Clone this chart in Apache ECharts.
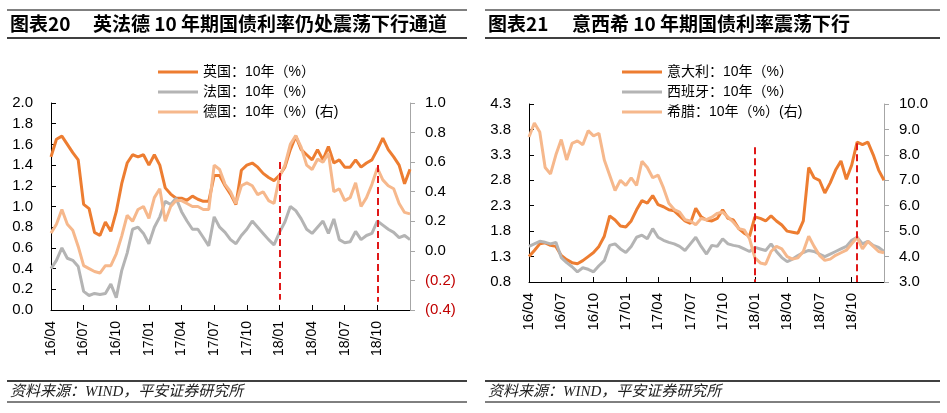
<!DOCTYPE html>
<html>
<head>
<meta charset="utf-8">
<script src="https://cdn.jsdelivr.net/npm/echarts@6/dist/echarts.min.js"></script>
<style>
  html, body { margin: 0; padding: 0; background: #fff; }
  #chart { width: 947px; height: 413px; }
</style>
</head>
<body>
<div id="chart"></div>
<script>
// 半月采样：每月1日、16日，2016-04 至 2019-01-01
const categories = []
for (let y = 2016; y <= 2018; y++) {
  for (let m = (y === 2016 ? 4 : 1); m <= 12; m++) {
    const mm = (m < 10 ? '0' : '') + m
    categories.push(y + '-' + mm + '-01', y + '-' + mm + '-16')
  }
}
categories.push('2019-01-01')

// 图表20
const ukYield = [1.48, 1.65, 1.68, 1.60, 1.52, 1.45, 1.02, 0.98, 0.75, 0.72, 0.85, 0.76, 0.95, 1.22, 1.42, 1.50,
  1.48, 1.50, 1.40, 1.50, 1.40, 1.18, 1.12, 1.08, 1.08, 1.06, 1.10, 1.07, 1.05, 1.05, 1.30, 1.30,
  1.20, 1.12, 1.02, 1.35, 1.40, 1.42, 1.38, 1.32, 1.28, 1.25, 1.30, 1.38, 1.55, 1.68, 1.55, 1.50,
  1.45, 1.55, 1.45, 1.58, 1.42, 1.45, 1.38, 1.38, 1.45, 1.38, 1.42, 1.45, 1.55, 1.66, 1.55, 1.48,
  1.40, 1.22, 1.36]
const frYield = [0.40, 0.48, 0.60, 0.50, 0.48, 0.42, 0.18, 0.14, 0.16, 0.15, 0.16, 0.25, 0.12, 0.38, 0.55, 0.78,
  0.80, 0.74, 0.64, 0.80, 0.90, 1.05, 1.02, 1.08, 0.95, 0.86, 0.78, 0.78, 0.70, 0.62, 0.90, 0.80,
  0.75, 0.68, 0.64, 0.72, 0.78, 0.86, 0.80, 0.74, 0.68, 0.63, 0.75, 0.85, 1.00, 0.96, 0.88, 0.78,
  0.74, 0.80, 0.86, 0.74, 0.88, 0.68, 0.65, 0.66, 0.76, 0.68, 0.72, 0.74, 0.86, 0.82, 0.78, 0.75,
  0.70, 0.72, 0.68]
const deYield = [0.12, 0.18, 0.28, 0.18, 0.14, 0.03, -0.10, -0.12, -0.14, -0.15, -0.10, -0.10, -0.02, 0.10, 0.24, 0.20,
  0.28, 0.30, 0.22, 0.36, 0.42, 0.20, 0.30, 0.34, 0.34, 0.32, 0.30, 0.30, 0.28, 0.28, 0.58, 0.55,
  0.45, 0.40, 0.32, 0.44, 0.46, 0.44, 0.38, 0.40, 0.34, 0.32, 0.50, 0.58, 0.72, 0.78, 0.70, 0.58,
  0.55, 0.62, 0.60, 0.66, 0.40, 0.42, 0.34, 0.36, 0.46, 0.30, 0.36, 0.45, 0.56, 0.48, 0.44, 0.42,
  0.32, 0.26, 0.25]

// 图表21
const itYield = [1.30, 1.42, 1.55, 1.57, 1.52, 1.50, 1.32, 1.24, 1.18, 1.16, 1.22, 1.30, 1.38, 1.50, 1.70, 2.10,
  2.02, 1.90, 1.88, 2.00, 2.22, 2.40, 2.35, 2.50, 2.32, 2.28, 2.22, 2.20, 2.10, 2.00, 1.95, 2.25,
  2.08, 2.02, 2.00, 2.05, 2.22, 2.05, 2.02, 1.85, 1.76, 1.70, 2.08, 2.05, 2.00, 2.10, 2.00, 1.92,
  1.80, 1.78, 1.76, 2.00, 3.05, 2.85, 2.80, 2.55, 2.75, 3.00, 3.18, 2.82, 3.10, 3.55, 3.50, 3.55,
  3.30, 3.00, 2.80]
const esYield = [1.50, 1.55, 1.60, 1.58, 1.55, 1.58, 1.28, 1.18, 1.10, 1.00, 1.08, 1.05, 1.00, 1.12, 1.22, 1.52,
  1.55, 1.45, 1.38, 1.50, 1.68, 1.72, 1.65, 1.85, 1.68, 1.62, 1.58, 1.55, 1.50, 1.42, 1.55, 1.68,
  1.50, 1.35, 1.52, 1.50, 1.65, 1.55, 1.52, 1.50, 1.45, 1.40, 1.48, 1.45, 1.42, 1.55, 1.40, 1.28,
  1.20, 1.25, 1.32, 1.38, 1.42, 1.40, 1.35, 1.30, 1.35, 1.40, 1.45, 1.50, 1.62, 1.68, 1.55, 1.60,
  1.52, 1.48, 1.40]
const grYield = [8.70, 9.25, 8.90, 7.50, 7.25, 8.00, 8.60, 7.80, 8.45, 8.55, 8.40, 8.95, 8.75, 8.85, 7.80, 7.20,
  6.60, 7.00, 6.80, 7.10, 6.80, 7.75, 7.50, 7.10, 7.20, 6.70, 6.10, 5.85, 5.75, 5.45, 5.40, 5.25,
  5.50, 5.45, 5.55, 5.70, 5.75, 5.55, 5.35, 5.10, 5.05, 4.70, 3.95, 3.75, 3.70, 4.20, 4.40, 4.30,
  4.00, 3.90, 3.95, 4.20, 4.80, 4.40, 4.05, 3.85, 3.90, 4.05, 4.15, 4.25, 4.50, 4.75, 4.30, 4.60,
  4.40, 4.20, 4.15]

// 红色虚线：[类目下标, 上端值, 下端值]
const markLeft = [[42, 1.43, 0.10], [60, 1.40, 0.08]]
const markRight = [[42, 3.45, 0.8], [61, 3.53, 0.8]]

const DARK = '#ED7D31'
const GREY = '#B4B4B4'
const LIGHT = '#F6B88C'
const NUM_FONT = "'Liberation Sans', 'Noto Sans CJK SC', sans-serif"
const CJK_FONT = "'Noto Sans CJK SC', sans-serif"

function isQuarterTick(index, value) {
  return value.slice(8) === '01' && ['01', '04', '07', '10'].indexOf(value.slice(5, 7)) >= 0 &&
    index < categories.length - 1
}

function xAxisOf(gridIndex, fontSize) {
  return {
    type: 'category',
    gridIndex: gridIndex,
    data: categories,
    boundaryGap: false,
    axisLine: { lineStyle: { color: '#000', width: 1 } },
    axisTick: { inside: true, length: 5, interval: isQuarterTick, lineStyle: { color: '#000' } },
    axisLabel: {
      interval: isQuarterTick,
      rotate: 90,
      margin: 11,
      color: '#000',
      fontSize: fontSize,
      fontFamily: NUM_FONT,
      formatter: v => v.slice(2, 4) + '/' + v.slice(5, 7)
    },
    splitLine: { show: false }
  }
}

function yAxisOf(gridIndex, position, min, max, interval, lineColor, labelColor, formatter) {
  return {
    type: 'value',
    gridIndex: gridIndex,
    position: position,
    min: min,
    max: max,
    interval: interval,
    axisLine: { show: true, lineStyle: { color: lineColor } },
    axisTick: { show: true, inside: position === 'left', length: 5, lineStyle: { color: lineColor } },
    axisLabel: {
      color: labelColor,
      fontSize: 15,
      fontFamily: NUM_FONT,
      margin: position === 'left' ? 18 : 15,
      formatter: formatter
    },
    splitLine: { show: false }
  }
}

function markLineOf(marks) {
  return {
    silent: true,
    symbol: ['none', 'none'],
    label: { show: false },
    lineStyle: { color: '#E01818', width: 2, type: [7, 4] },
    data: marks.map(m => [
      { coord: [categories[m[0]], m[1]] },
      { coord: [categories[m[0]], m[2]] }
    ])
  }
}

function lineSeries(name, data, color, xIdx, yIdx, extra) {
  return Object.assign({
    name: name,
    type: 'line',
    xAxisIndex: xIdx,
    yAxisIndex: yIdx,
    data: data,
    symbol: 'none',
    lineStyle: { color: color, width: 3 },
    itemStyle: { color: color }
  }, extra || {})
}

const fmt1 = v => (+v).toFixed(1)
const fmtParen = v => v < -1e-9 ? '(' + Math.abs(v).toFixed(1) + ')' : (+v).toFixed(1)

const names = {
  uk: '英国：10年（%）',
  fr: '法国：10年（%）',
  de: '德国：10年（%）(右)',
  it: '意大利：10年（%）',
  es: '西班牙：10年（%）',
  gr: '希腊：10年（%）(右)'
}

function legendOf(left, data) {
  return {
    orient: 'vertical',
    left: left,
    top: 60,
    icon: 'rect',
    itemWidth: 40,
    itemHeight: 3,
    itemGap: 6,
    selectedMode: false,
    textStyle: { fontSize: 14, lineHeight: 14, color: '#000', fontFamily: NUM_FONT },
    data: data
  }
}

function headerGraphics(x0, x1, tag, tagX, title, titleX) {
  return [
    { type: 'line', shape: { x1: x0, y1: 10, x2: x1, y2: 10 }, style: { stroke: '#000', lineWidth: 1 } },
    { type: 'line', shape: { x1: x0, y1: 38, x2: x1, y2: 38 }, style: { stroke: '#000', lineWidth: 1.5 } },
    { type: 'text', x: tagX, y: 24, style: { text: tag, font: 'bold 19px ' + CJK_FONT, fill: '#000', verticalAlign: 'middle' } },
    { type: 'text', x: titleX, y: 24, style: { text: title, font: 'bold 19px ' + CJK_FONT, fill: '#000', verticalAlign: 'middle' } },
    { type: 'line', shape: { x1: x0, y1: 381, x2: x1, y2: 381 }, style: { stroke: '#000', lineWidth: 1.5 } },
    { type: 'line', shape: { x1: x0, y1: 402, x2: x1, y2: 402 }, style: { stroke: '#000', lineWidth: 1 } },
    { type: 'text', x: x0 + 3, y: 392, style: { text: '资料来源：WIND，平安证券研究所', font: "italic 15px 'Liberation Serif', 'Noto Sans CJK SC', serif", fill: '#222', verticalAlign: 'middle' } }
  ]
}

const chart = echarts.init(document.getElementById('chart'), null, { renderer: 'canvas' })

chart.setOption({
  animation: false,
  backgroundColor: '#fff',
  grid: [
    { left: 51, top: 103, width: 359, height: 207 },
    { left: 529, top: 104, width: 355, height: 178 }
  ],
  legend: [
    legendOf(153, [names.uk, names.fr, names.de]),
    legendOf(617, [names.it, names.es, names.gr])
  ],
  xAxis: [xAxisOf(0, 14), xAxisOf(1, 15)],
  yAxis: [
    yAxisOf(0, 'left', 0, 2, 0.2, '#000', '#000', fmt1),
    yAxisOf(0, 'right', -0.4, 1.0, 0.2, '#A6A6A6', v => v < -1e-9 ? '#C00000' : '#000', fmtParen),
    yAxisOf(1, 'left', 0.8, 4.3, 0.5, '#000', '#000', fmt1),
    yAxisOf(1, 'right', 3, 10, 1, '#A6A6A6', '#000', fmt1)
  ],
  graphic: headerGraphics(7, 467, '图表20', 10, '英法德 10 年期国债利率仍处震荡下行通道', 93)
    .concat(headerGraphics(485, 940, '图表21', 488, '意西希 10 年期国债利率震荡下行', 572)),
  series: [
    lineSeries(names.uk, ukYield, DARK, 0, 0, { markLine: markLineOf(markLeft) }),
    lineSeries(names.fr, frYield, GREY, 0, 0),
    lineSeries(names.de, deYield, LIGHT, 0, 1),
    lineSeries(names.it, itYield, DARK, 1, 2, { markLine: markLineOf(markRight) }),
    lineSeries(names.es, esYield, GREY, 1, 2),
    lineSeries(names.gr, grYield, LIGHT, 1, 3)
  ]
})
</script>
</body>
</html>
